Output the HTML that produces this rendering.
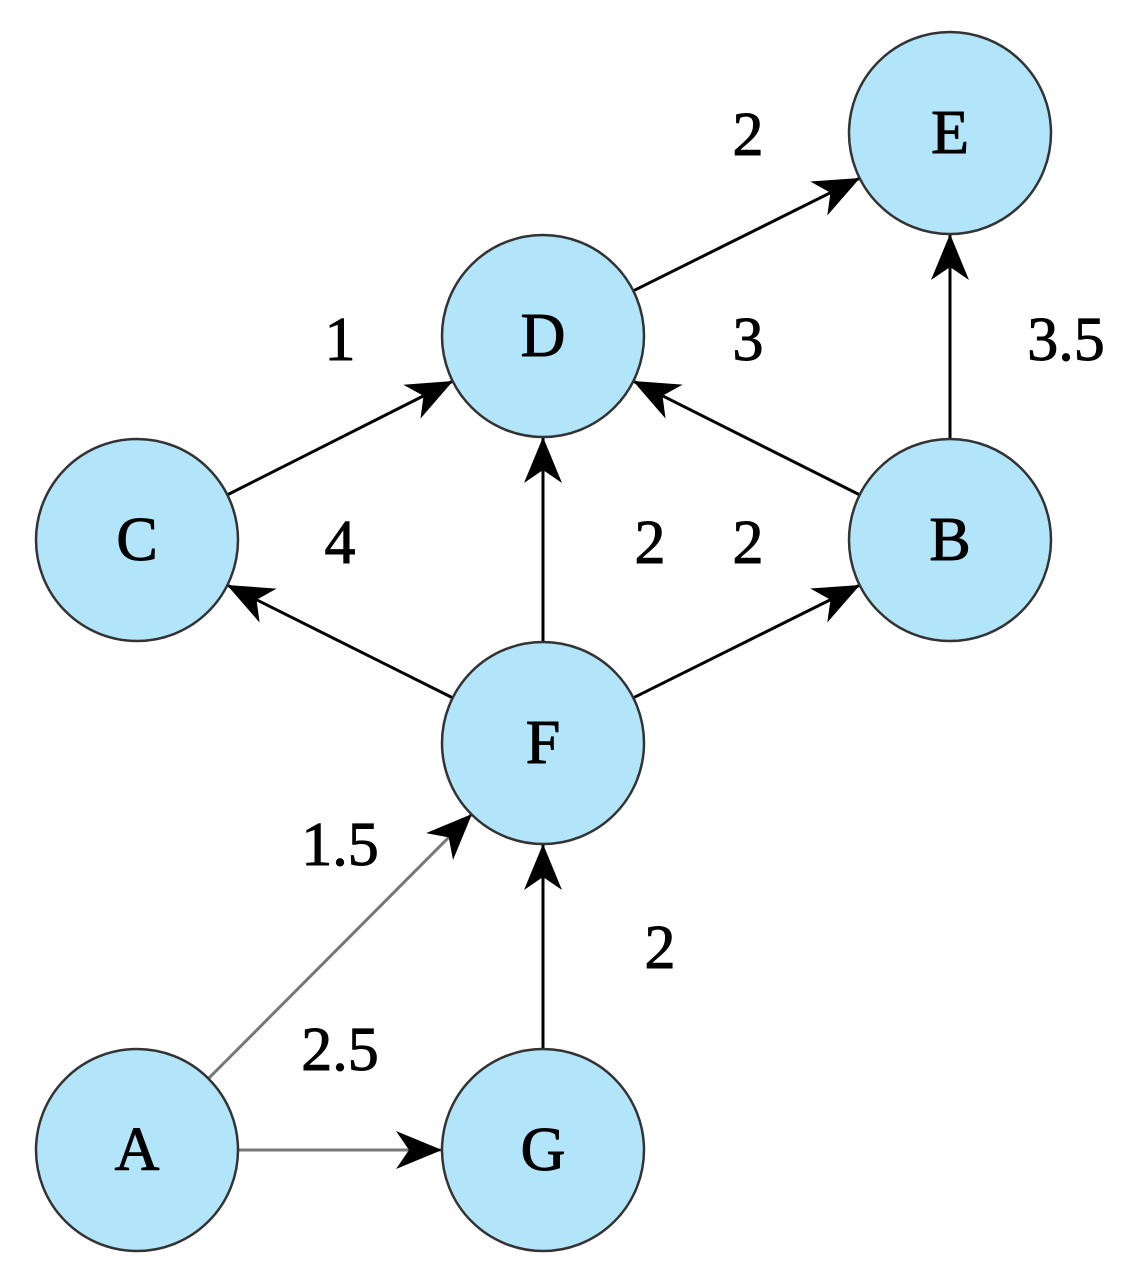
<!DOCTYPE html>
<html><head><meta charset="utf-8"><style>
html,body{margin:0;padding:0;background:#fff;}
svg{display:block}
text{font-family:"Liberation Serif",serif;font-size:62px;fill:#000;stroke:#000;stroke-width:1px;text-anchor:middle;dominant-baseline:central}
</style></head><body>
<svg width="1126" height="1279" viewBox="0 0 1126 1279" xmlns="http://www.w3.org/2000/svg">
<defs>
<marker id="ah" markerUnits="userSpaceOnUse" markerWidth="60" markerHeight="60" refX="0" refY="0" viewBox="-50 -25 60 50" orient="auto">
<path d="M0,0 L-46,-19 L-33,0 L-46,19 Z" fill="#000"/>
</marker>
<marker id="ahg" markerUnits="userSpaceOnUse" markerWidth="60" markerHeight="60" refX="0" refY="0" viewBox="-50 -25 60 50" orient="auto">
<path d="M0,0 L-46,-19 L-33,0 L-46,19 Z" fill="#000"/>
</marker>
</defs>
<g stroke="#000" stroke-width="3" fill="none">
<line x1="633" y1="291" x2="860" y2="178" marker-end="url(#ah)"/>
<line x1="227" y1="495" x2="453" y2="381" marker-end="url(#ah)"/>
<line x1="860" y1="495" x2="633" y2="381" marker-end="url(#ah)"/>
<line x1="453" y1="698" x2="227" y2="585" marker-end="url(#ah)"/>
<line x1="633" y1="698" x2="860" y2="585" marker-end="url(#ah)"/>
<line x1="543" y1="642" x2="543" y2="437" marker-end="url(#ah)"/>
<line x1="950" y1="439" x2="950" y2="234" marker-end="url(#ah)"/>
<line x1="543" y1="1049" x2="543" y2="844" marker-end="url(#ah)"/>
</g>
<g stroke="#777" stroke-width="3" fill="none">
<line x1="238" y1="1150" x2="442" y2="1150" marker-end="url(#ahg)"/>
<line x1="208" y1="1079" x2="472" y2="814" marker-end="url(#ahg)"/>
</g>
<g fill="#b3e5fa" stroke="#333" stroke-width="2.5">
<circle cx="950" cy="133" r="101"/>
<circle cx="543" cy="336" r="101"/>
<circle cx="137" cy="540" r="101"/>
<circle cx="950" cy="540" r="101"/>
<circle cx="543" cy="743" r="101"/>
<circle cx="137" cy="1150" r="101"/>
<circle cx="543" cy="1150" r="101"/>
</g>
<text x="950" y="133">E</text>
<text x="543" y="336">D</text>
<text x="137" y="540">C</text>
<text x="950" y="540">B</text>
<text x="543" y="743">F</text>
<text x="137" y="1150">A</text>
<text x="543" y="1150">G</text>
<text x="748" y="135">2</text>
<text x="340" y="340">1</text>
<text x="748" y="340">3</text>
<text x="1066" y="340">3.5</text>
<text x="340" y="543">4</text>
<text x="650" y="543">2</text>
<text x="748" y="543">2</text>
<text x="340" y="845">1.5</text>
<text x="660" y="948">2</text>
<text x="340" y="1050">2.5</text>
</svg>
</body></html>
